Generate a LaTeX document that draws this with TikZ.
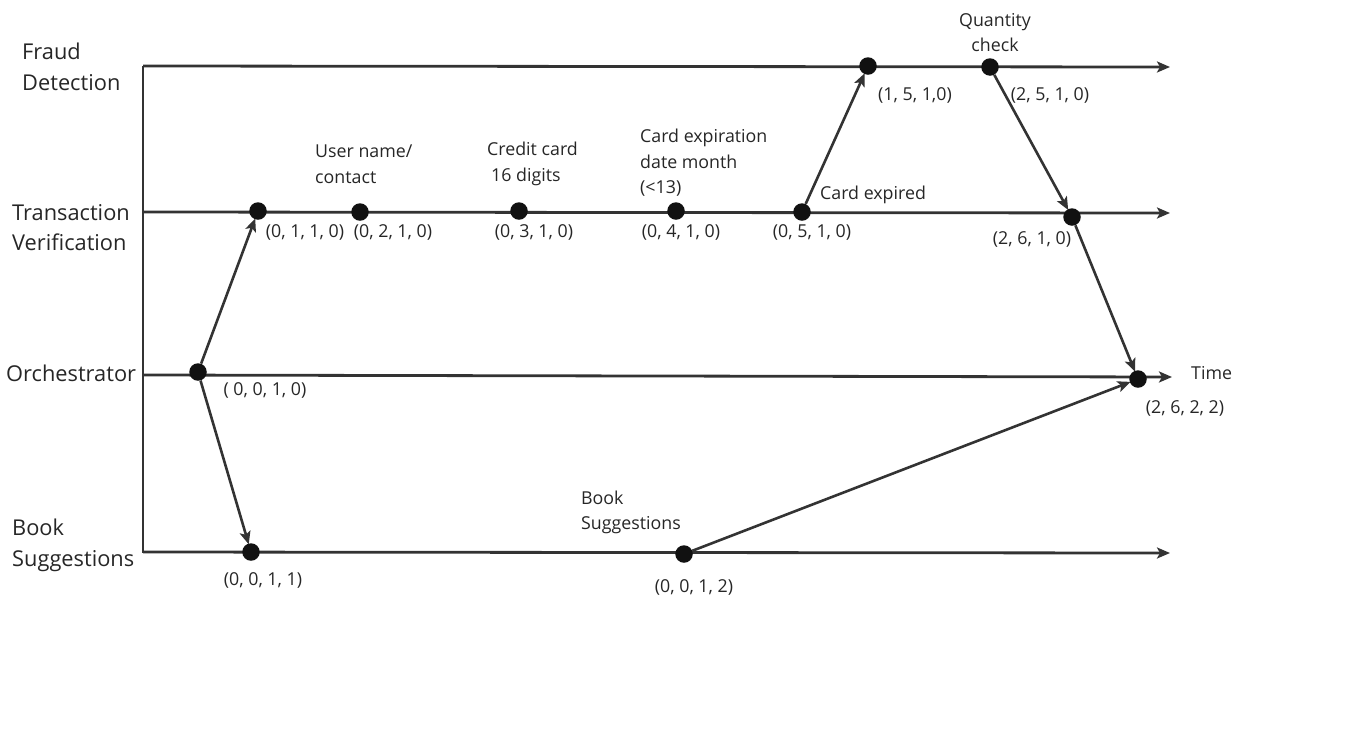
\documentclass[tikz,border=0pt]{standalone}
\usepackage{fontspec}
\setmainfont{Open Sans}
\usetikzlibrary{arrows.meta}
\definecolor{ln}{HTML}{333333}
\definecolor{dt}{HTML}{111111}
\begin{document}
\begin{tikzpicture}[x=1pt,y=-1pt,
  lane/.style={draw=ln,line width=2.8pt},
  tl/.style={draw=ln,line width=2.8pt,-{Stealth[length=13pt,width=11pt,inset=3pt]}},
  msg/.style={draw=ln,line width=2.6pt,-{Stealth[length=13pt,width=11pt,inset=3pt]},shorten >=-1pt},
  ev/.style={circle,fill=dt,inner sep=0pt,minimum size=17.5pt},
  big/.style={inner sep=0pt,font=\fontsize{21.8}{30.5}\selectfont,text=black!85,align=left},
  sm/.style={inner sep=0pt,font=\fontsize{17.8}{25.5}\selectfont,text=black!85,align=left}]
\useasboundingbox (0,0) rectangle (1370,729);
% axis and lanes
\coordinate (axT) at (143,66);
\coordinate (axB) at (143,553);
\coordinate (fS) at (143,66);
\coordinate (fE) at (1170,67);
\coordinate (tS) at (143,212);
\coordinate (tE) at (1170,213);
\coordinate (oS) at (143,375);
\coordinate (oE) at (1172,377);
\coordinate (bS) at (143,552);
\coordinate (bE) at (1170,553);
\draw[lane] (axT) -- (axB);
\draw[tl] (fS) -- (fE);
\draw[tl] (tS) -- (tE);
\draw[tl] (oS) -- (oE);
\draw[tl] (bS) -- (bE);
% events
\node[ev] (f1) at (868,66) {};
\node[ev] (f2) at (990,67) {};
\node[ev] (t1) at (258,211) {};
\node[ev] (t2) at (360,212) {};
\node[ev] (t3) at (519,211) {};
\node[ev] (t4) at (676,211) {};
\node[ev] (t5) at (802,212) {};
\node[ev] (t6) at (1072,217) {};
\node[ev] (o1) at (198,372) {};
\node[ev] (o2) at (1138,379) {};
\node[ev] (b1) at (251,552) {};
\node[ev] (b2) at (684,554) {};
% messages
\draw[msg] (o1) -- (t1);
\draw[msg] (o1) -- (b1);
\draw[msg] (t5) -- (f1);
\draw[msg] (f2) -- (t6);
\draw[msg] (t6) -- (o2);
\draw[msg] (b2) -- (o2);
% lane labels
\node[big,anchor=west] (lf) at (22,67) {Fraud\\Detection};
\node[big,anchor=west] (lt) at (12,227.5) {Transaction\\Verification};
\node[big,anchor=west] (lo) at (6,373) {Orchestrator};
\node[big,anchor=west] (lb) at (12,545.5) {Book\\Suggestions};
% stamps
\node[sm] (s1) at (305,232) {(0, 1, 1, 0)};
\node[sm] (s2) at (393,232) {(0, 2, 1, 0)};
\node[sm] (s3) at (534,232) {(0, 3, 1, 0)};
\node[sm] (s4) at (681,232) {(0, 4, 1, 0)};
\node[sm] (s5) at (812,232) {(0, 5, 1, 0)};
\node[sm] (s6) at (1032,239) {(2, 6, 1, 0)};
\node[sm] (s7) at (915,95) {(1, 5, 1,0)};
\node[sm] (s8) at (1050,95) {(2, 5, 1, 0)};
\node[sm] (s9) at (265,390) {( 0, 0, 1, 0)};
\node[sm] (s10) at (1185,408) {(2, 6, 2, 2)};
\node[sm] (s11) at (263,580) {(0, 0, 1, 1)};
\node[sm] (s12) at (694,587) {(0, 0, 1, 2)};
% event labels
\node[sm,anchor=west] (e1) at (315,164) {User name/\\contact};
\node[sm,anchor=west] (e2) at (487,164) {Credit card\\\hspace{4pt}16 digits};
\node[sm,anchor=west] (e3) at (640,163) {Card expiration\\date month\\(<13)};
\node[sm,anchor=west] (e4) at (820,195) {Card expired};
\node[sm,align=center] (e5) at (995,32.5) {Quantity\\check};
\node[sm,anchor=west] (e6) at (581,512.5) {Book\\Suggestions};
\node[sm,anchor=west] (e7) at (1191,373) {Time};
\end{tikzpicture}
\end{document}
